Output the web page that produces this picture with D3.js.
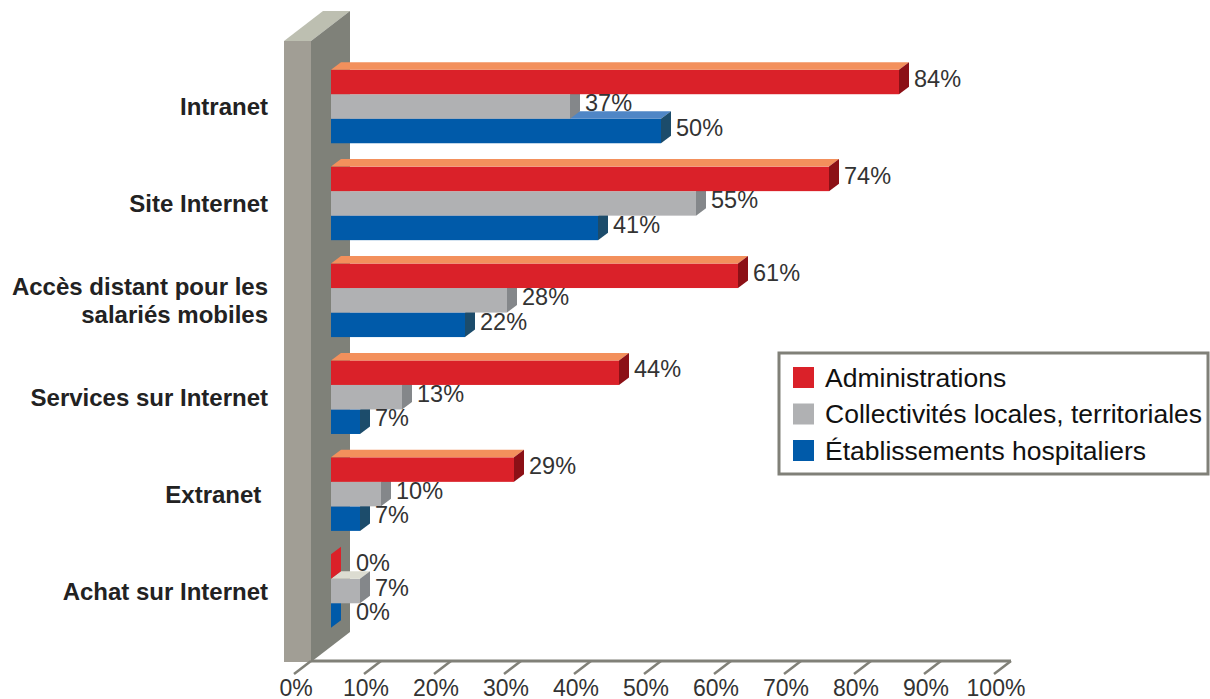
<!DOCTYPE html>
<html>
<head>
<meta charset="utf-8">
<script src="https://cdn.jsdelivr.net/npm/d3@7"></script>
<style>
  html, body { margin: 0; padding: 0; background: #ffffff; }
  svg { display: block; font-family: "Liberation Sans", Arial, sans-serif; }
</style>
</head>
<body>
<svg id="chart" width="1210" height="699"></svg>
<script>
// Usage of online services by type of organisation (%)
const categories = [
  ["Intranet"],
  ["Site Internet"],
  ["Accès distant pour les", "salariés mobiles"],
  ["Services sur Internet"],
  ["Extranet\u00A0"],
  ["Achat sur Internet"]
];
const seriesNames = ["Administrations", "Collectivités locales, territoriales", "Établissements hospitaliers"];
const administrations = [84, 74, 61, 44, 29, 0];
const collectivites   = [37, 55, 28, 13, 10, 7];
const hospitaliers    = [50, 41, 22, 7, 7, 0];
const tickValues = [0, 10, 20, 30, 40, 50, 60, 70, 80, 90, 100];
const tickLabels = ["0%", "10%", "20%", "30%", "40%", "50%", "60%", "70%", "80%", "90%", "100%"];

const series = [administrations, collectivites, hospitaliers];
const palette = [
  { front: "#da2129", top: "#f3905c", side: "#8c1016" },
  { front: "#b0b1b3", top: "#dcdcd1", side: "#84878a" },
  { front: "#005aa9", top: "#4f86c6", side: "#1c4c6b" }
];

const svg = d3.select("#chart");

// 3D geometry
const depthX = 10, depthY = -7.5;        // bar depth offset
const wall = { x0: 284, x1: 311, top: 41, bottom: 662, dx: 39, dy: -30 };
const barStart = 331;                    // bars emerge from the wall's side face

const x = d3.scaleLinear().domain([0, 100]).range([311, 1011]);
const keys = categories.map((c, i) => i);
const yGroup = d3.scaleBand().domain(keys).range([69.7, 627.8]).paddingInner(0.241).paddingOuter(0);
const ySeries = d3.scaleBand().domain([0, 1, 2]).range([0, yGroup.bandwidth()]);

// ---- wall ----
const w = svg.append("g");
w.append("rect").attr("x", wall.x0).attr("y", wall.top)
  .attr("width", wall.x1 - wall.x0).attr("height", wall.bottom - wall.top).attr("fill", "#a19e95");
w.append("path").attr("fill", "#bdbfb1")
  .attr("d", `M${wall.x0},${wall.top}L${wall.x0 + wall.dx},${wall.top + wall.dy}L${wall.x1 + wall.dx},${wall.top + wall.dy}L${wall.x1},${wall.top}Z`);
w.append("path").attr("fill", "#7f8179")
  .attr("d", `M${wall.x1},${wall.top}L${wall.x1 + wall.dx},${wall.top + wall.dy}L${wall.x1 + wall.dx},${wall.bottom + wall.dy}L${wall.x1},${wall.bottom}Z`);

// ---- axis (floor front edge) ----
const ax = svg.append("g");
ax.append("line").attr("x1", x(0)).attr("x2", x(100)).attr("y1", 661).attr("y2", 661)
  .attr("stroke", "#808078").attr("stroke-width", 3);
ax.selectAll("line.tick").data(tickValues).join("line").attr("class", "tick")
  .attr("x1", d => x(d)).attr("y1", 661).attr("x2", d => x(d) - 17).attr("y2", 674)
  .attr("stroke", "#808078").attr("stroke-width", 2.5);
ax.selectAll("text").data(tickValues).join("text")
  .attr("x", d => x(d) - 15).attr("y", 688).attr("text-anchor", "middle")
  .attr("dominant-baseline", "central").attr("font-size", 23).attr("fill", "#333333")
  .text((d, i) => tickLabels[i]);

// ---- bars ----
function face(points) { return "M" + points.map(p => p.join(",")).join("L") + "Z"; }

const groups = svg.append("g").selectAll("g").data(keys).join("g")
  .attr("transform", d => `translate(0,${yGroup(d)})`);

groups.each(function (gi) {
  const g = d3.select(this);
  // lower bars first so the bar above covers their top faces
  [2, 1, 0].forEach(si => {
    const v = series[si][gi];
    const x1 = Math.max(x(v), barStart);
    const y0 = ySeries(si), h = ySeries.bandwidth();
    const c = palette[si];
    if (x1 > barStart) {
      g.append("rect").attr("x", barStart).attr("y", y0).attr("width", x1 - barStart).attr("height", h).attr("fill", c.front);
      g.append("path").attr("fill", c.top)
        .attr("d", face([[barStart, y0], [barStart + depthX, y0 + depthY], [x1 + depthX, y0 + depthY], [x1, y0]]));
    }
    g.append("path").attr("fill", x1 > barStart ? c.side : c.front)
      .attr("d", face([[x1, y0], [x1 + depthX, y0 + depthY], [x1 + depthX, y0 + h + depthY], [x1, y0 + h]]));
  });
  // value labels
  [0, 1, 2].forEach(si => {
    const v = series[si][gi];
    g.append("text")
      .attr("x", Math.max(x(v), barStart + depthX) + 15)
      .attr("y", ySeries(si) + ySeries.bandwidth() / 2 + depthY / 2 + 0.5)
      .attr("dominant-baseline", "central").attr("font-size", 23.5).attr("fill", "#333333")
      .text(v + "%");
  });
  // category label
  const lines = categories[gi];
  const cy = yGroup.bandwidth() / 2 + 0.5;
  const lh = 28;
  const t = g.append("text").attr("text-anchor", "end").attr("font-size", 24)
    .attr("font-weight", "bold").attr("fill", "#222222").style("white-space", "pre");
  lines.forEach((ln, li) => {
    t.append("tspan").attr("x", 268)
      .attr("y", cy + (li - (lines.length - 1) / 2) * lh)
      .attr("dominant-baseline", "central").text(ln);
  });
});

// ---- legend ----
const lg = svg.append("g").attr("transform", "translate(779,353)");
lg.append("rect").attr("x", 0).attr("y", 0).attr("width", 429).attr("height", 121)
  .attr("fill", "#ffffff").attr("stroke", "#808078").attr("stroke-width", 3);
const items = lg.selectAll("g").data(seriesNames).join("g")
  .attr("transform", (d, i) => `translate(14,${24.5 + i * 36.5})`);
items.append("rect").attr("x", 0).attr("y", -10.5).attr("width", 21).attr("height", 21)
  .attr("fill", (d, i) => palette[i].front);
items.append("text").attr("x", 32).attr("y", 0).attr("dominant-baseline", "central")
  .attr("font-size", 26.5).attr("fill", "#111111").text(d => d);
</script>
</body>
</html>
